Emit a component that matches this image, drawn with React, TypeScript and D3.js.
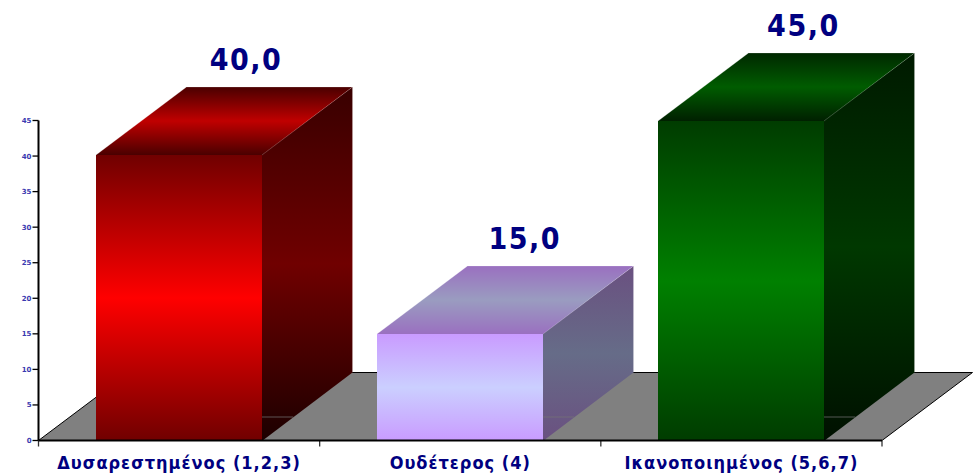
import React from "react";
import * as d3 from "d3";

const categories = ["Δυσαρεστημένος (1,2,3)", "Ουδέτερος (4)", "Ικανοποιημένος (5,6,7)"];
const values = [40.2, 15, 45];
const valueLabels = ["40,0", "15,0", "45,0"];
const ticks = [0, 5, 10, 15, 20, 25, 30, 35, 40, 45];
const frontStops = [["#700000", "#ff0000", "#700000"], ["#c99bff", "#cbcfff", "#c99bff"], ["#003c00", "#008000", "#003c00"]];
const topStops = [["#4a0000", "#c00000", "#4a0000"], ["#9a70c0", "#9a9cc0", "#9a70c0"], ["#002800", "#005c00", "#002000"]];
const sideStops = [["#380000", "#700000", "#1c0000"], ["#6a5080", "#666c88", "#6a5080"], ["#001a00", "#003800", "#001000"]];

const W = 980, H = 475;
const x0 = 38.5, x1 = 882, yBase = 440.5, yTop = 120.5;
const dx = 90.5, dy = -68;

const y = d3.scaleLinear().domain([0, 45]).range([yBase, yTop]);
const band = d3.scaleBand<number>().domain([0, 1, 2]).range([x0, x1]).padding(0);
const barW = 166;

function Grad({ id, c }: { id: string; c: string[] }) {
  return (
    <linearGradient id={id} x1="0" y1="0" x2="0" y2="1">
      <stop offset="0" stopColor={c[0]} />
      <stop offset="0.5" stopColor={c[1]} />
      <stop offset="1" stopColor={c[2]} />
    </linearGradient>
  );
}

export default function App() {
  const line = d3.line();
  const font = "'DejaVu Sans Condensed', 'DejaVu Sans', sans-serif";
  return (
    <svg width={W} height={H} style={{ position: "absolute", left: 0, top: 0, background: "#fff" }}>
      <defs>
        {values.map((_, i) => (
          <React.Fragment key={i}>
            <Grad id={`f${i}`} c={frontStops[i]} />
            <Grad id={`t${i}`} c={topStops[i]} />
            <Grad id={`s${i}`} c={sideStops[i]} />
          </React.Fragment>
        ))}
      </defs>
      <path
        d={line([[x0, yBase], [x0 + dx, yBase + dy], [x1 + dx, yBase + dy], [x1, yBase]])! + "Z"}
        fill="#808080"
        stroke="#000"
        strokeWidth={1}
      />
      <line x1={x0} x2={x0} y1={yTop} y2={yBase} stroke="#000" strokeWidth={2} />
      {ticks.map((t) => (
        <g key={t}>
          <line x1={x0 - 6} x2={x0} y1={y(t)} y2={y(t)} stroke="#000" strokeWidth={1.3} />
          <text x={x0 - 7} y={y(t) + 2.5} textAnchor="end" fontFamily="'DejaVu Sans', sans-serif" fontWeight="bold" fontSize={7} fill="#3a3ab0">
            {t}
          </text>
        </g>
      ))}
      {[0, 1, 2, 3].map((i) => {
        const xt = x0 + (i * (x1 - x0)) / 3;
        return <line key={i} x1={xt} x2={xt} y1={yBase} y2={yBase + 6} stroke="#333" strokeWidth={1.3} />;
      })}
      {values.map((v, i) => {
        const cx = (band(i) as number) + band.bandwidth() / 2;
        const l = Math.round(cx - barW / 2);
        const r = l + barW;
        const t = Math.round(y(v));
        const bottom = Math.round(yBase);
        return (
          <g key={i}>
            <path d={line([[r - 1, t], [r + dx, t + dy], [r + dx, yBase + dy], [r, bottom], [r - 1, bottom]])! + "Z"} fill={`url(#s${i})`} />
            <line x1={r} x2={r + (yBase - 417) * dx / -dy} y1={417} y2={417} stroke="#777" strokeWidth={1} opacity={0.7} />
            <path d={line([[l, t], [l + dx, t + dy], [r + dx, t + dy], [r, t]])! + "Z"} fill={`url(#t${i})`} />
            <path
              d={line([[l, t], [l + dx, t + dy], [r + dx, t + dy], [r, t]])!}
              fill="none"
              stroke="#fff"
              strokeOpacity={0.25}
              strokeWidth={0.8}
            />
            <line x1={r + dx} x2={r + dx} y1={t + dy} y2={yBase + dy} stroke="#fff" strokeOpacity={0.2} strokeWidth={0.8} />
            <rect x={l} y={t} width={barW} height={bottom - t} fill={`url(#f${i})`} />
            <text x={cx + 67 - 2.5 * i} y={t + dy - 17} textAnchor="middle" fontFamily={font} fontWeight="bold" fontSize={30} letterSpacing={1.5} fill="#000080">
              {valueLabels[i]}
            </text>
            <text x={cx} y={469} textAnchor="middle" fontFamily={font} fontWeight="bold" fontSize={18} letterSpacing={1} fill="#000080">
              {categories[i]}
            </text>
          </g>
        );
      })}
      <line x1={x0} x2={x1} y1={yBase} y2={yBase} stroke="#000" strokeWidth={2} />
    </svg>
  );
}
